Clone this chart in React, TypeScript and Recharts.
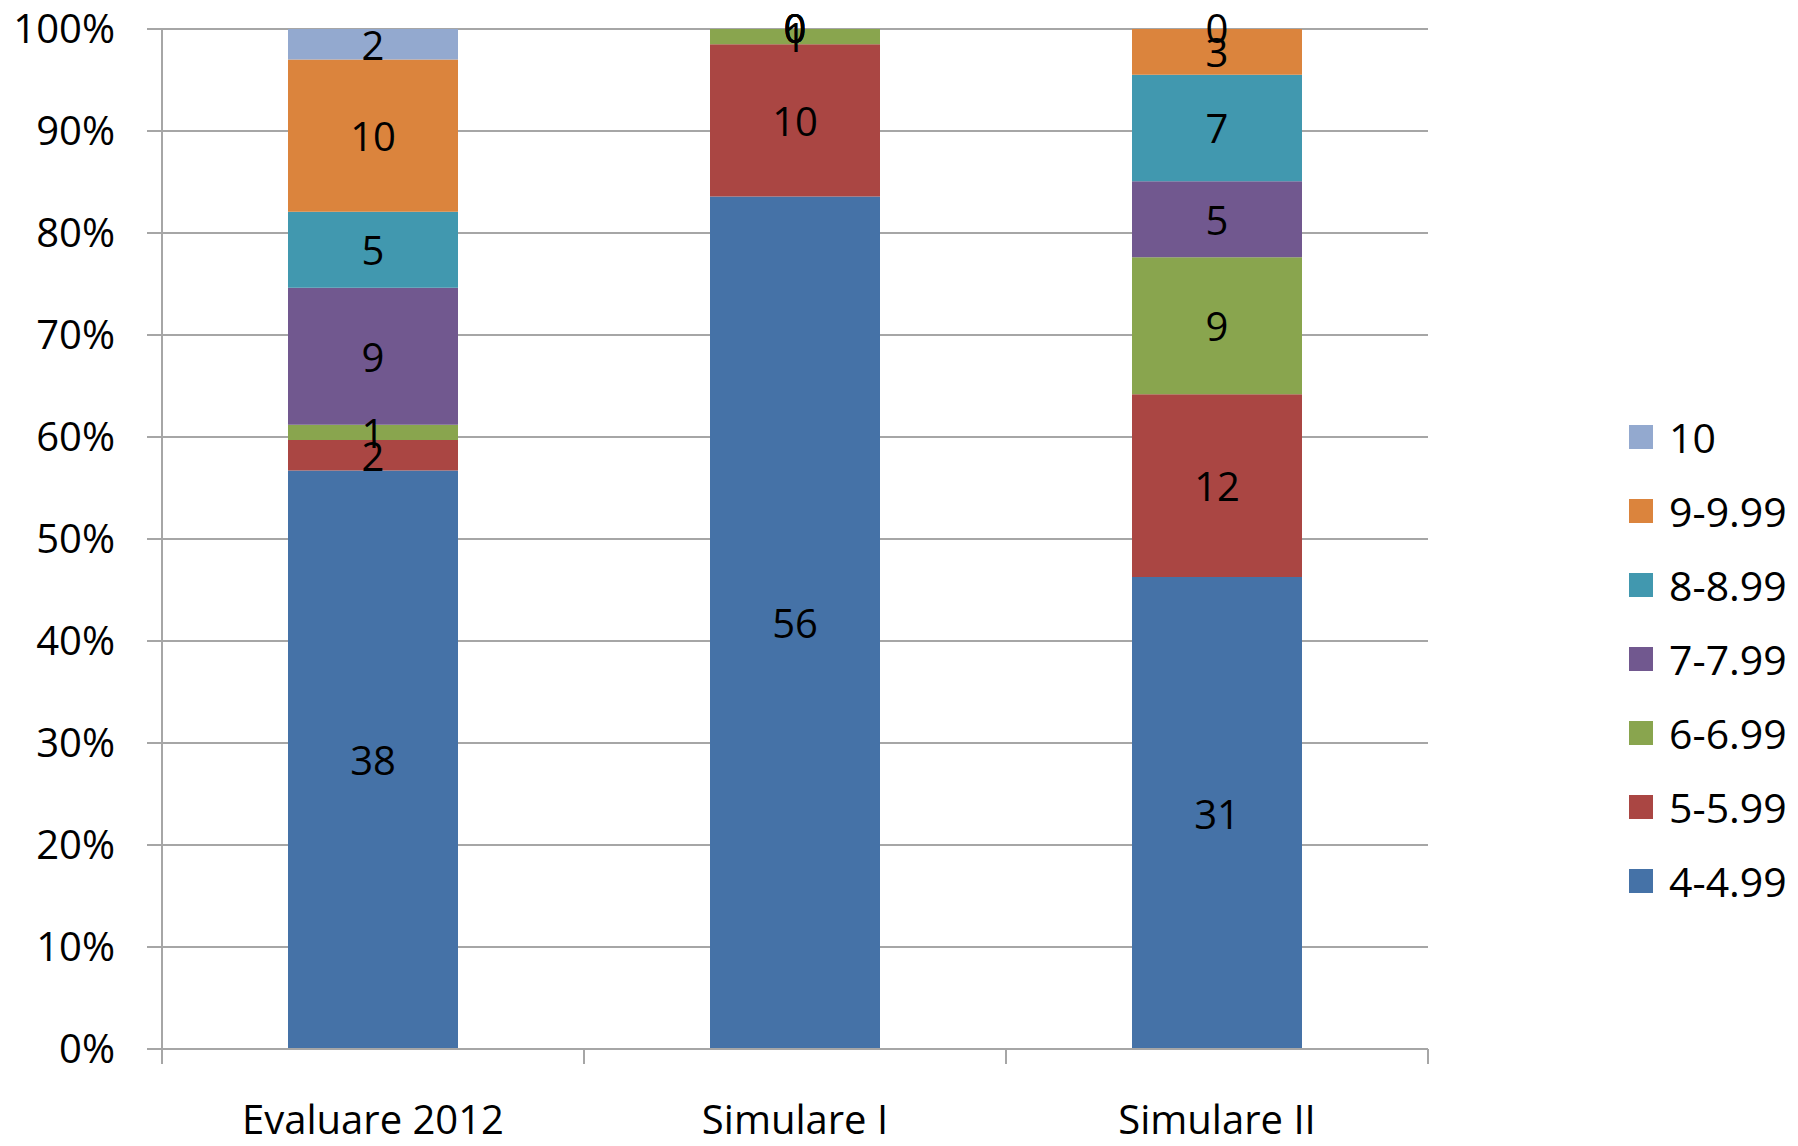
import { BarChart, Bar, XAxis, YAxis, CartesianGrid, Legend, LabelList, ReferenceDot } from 'recharts'

const categories = ['Evaluare 2012', 'Simulare I', 'Simulare II']
const seriesKeys = ['g4', 'g5', 'g6', 'g7', 'g8', 'g9', 'g10']
const seriesNames = ['4-4.99', '5-5.99', '6-6.99', '7-7.99', '8-8.99', '9-9.99', '10']
const seriesColors = ['#4572A7', '#AA4643', '#89A54E', '#71588F', '#4198AF', '#DB843D', '#93A9CF']

// counts per category, same order as categories
const grade4 = [38, 56, 31]
const grade5 = [2, 10, 12]
const grade6 = [1, 1, 9]
const grade7 = [9, 0, 5]
const grade8 = [5, 0, 7]
const grade9 = [10, 0, 3]
const grade10 = [2, 0, 0]
const seriesValues = [grade4, grade5, grade6, grade7, grade8, grade9, grade10]

const yTicks = [0, 0.1, 0.2, 0.3, 0.4, 0.5, 0.6, 0.7, 0.8, 0.9, 1]

const data = categories.map((name, i) => {
  const row: Record<string, string | number> = { name }
  seriesKeys.forEach((k, s) => { row[k] = seriesValues[s][i] })
  return row
})

// zero-count segments get no rect, so their "0" is placed at the stack share instead
const zeroLabels: { cat: string; share: number; key: string }[] = []
categories.forEach((cat, i) => {
  const total = seriesValues.reduce((t, v) => t + v[i], 0)
  let run = 0
  seriesValues.forEach((v, s) => {
    run += v[i]
    if (v[i] === 0) zeroLabels.push({ cat, share: run / total, key: `${cat}-${s}` })
  })
})

const W = 1798
const H = 1146
const PLOT_LEFT = 162
const PLOT_TOP = 29
const PLOT_BOTTOM = 1049
const PLOT_RIGHT = 1428
const LEGEND_W = 183
const GRID = '#A6A6A6'
const FONT = '"Open Sans", sans-serif'

function CategoryTick(props: any) {
  const { x, payload, index } = props
  const band = (PLOT_RIGHT - PLOT_LEFT) / categories.length
  const last = index === categories.length - 1
  return (
    <g>
      <line x1={x - band / 2} x2={x - band / 2} y1={PLOT_BOTTOM} y2={PLOT_BOTTOM + 15} stroke={GRID} strokeWidth={2} />
      {last && <line x1={x + band / 2} x2={x + band / 2} y1={PLOT_BOTTOM} y2={PLOT_BOTTOM + 15} stroke={GRID} strokeWidth={2} />}
      <text x={x} y={1134} textAnchor="middle" fontSize={40} fill="#000" fontFamily={FONT}>
        {payload.value}
      </text>
    </g>
  )
}

function SegmentLabel(props: any) {
  const { x, y, width, height, value } = props
  if (value === undefined || value === null) return null
  return (
    <text
      x={Number(x) + Number(width) / 2}
      y={Number(y) + Number(height) / 2}
      textAnchor="middle"
      dominantBaseline="central"
      fontSize={40}
      fill="#000"
      fontFamily={FONT}
    >
      {value}
    </text>
  )
}

function LegendBox() {
  const items = seriesNames.map((n, i) => ({ n, c: seriesColors[i] })).reverse()
  return (
    <div style={{ fontFamily: FONT }}>
      {items.map(it => (
        <div key={it.n} style={{ height: 74, display: 'flex', alignItems: 'center' }}>
          <span style={{ width: 24, height: 24, background: it.c, display: 'inline-block', marginRight: 16 }} />
          <span style={{ fontSize: 41, color: '#000' }}>{it.n}</span>
        </div>
      ))}
    </div>
  )
}

export default function App() {
  return (
    <div style={{ position: 'absolute', left: 0, top: 0, width: W, height: H, background: '#fff' }}>
      <BarChart
        width={W}
        height={H}
        data={data}
        stackOffset="expand"
        barSize={170}
        margin={{ top: PLOT_TOP, right: W - PLOT_RIGHT - LEGEND_W, bottom: 0, left: 0 }}
      >
        <CartesianGrid vertical={false} stroke={GRID} strokeWidth={2} />
        <XAxis
          dataKey="name"
          height={H - PLOT_BOTTOM}
          axisLine={{ stroke: GRID, strokeWidth: 2 }}
          tickLine={false}
          tick={<CategoryTick />}
          interval={0}
        />
        <YAxis
          width={PLOT_LEFT}
          domain={[0, 1]}
          ticks={yTicks}
          tickFormatter={(v: number) => `${Math.round(v * 100)}%`}
          axisLine={{ stroke: GRID, strokeWidth: 2 }}
          tickLine={{ stroke: GRID, strokeWidth: 2 }}
          tickSize={15}
          tickMargin={32}
          tick={{ fontSize: 40, fill: '#000', fontFamily: FONT }}
        />
        <Legend
          layout="vertical"
          align="right"
          verticalAlign="top"
          content={<LegendBox />}
          wrapperStyle={{ left: 1629, top: 400, right: 'auto', width: LEGEND_W }}
        />
        {seriesKeys.map((k, i) => (
          <Bar key={k} dataKey={k} name={seriesNames[i]} stackId="a" fill={seriesColors[i]} isAnimationActive={false}>
            <LabelList dataKey={k} content={<SegmentLabel />} />
          </Bar>
        ))}
        {zeroLabels.map(z => (
          <ReferenceDot
            key={z.key}
            x={z.cat}
            y={z.share}
            r={0}
            fill="none"
            stroke="none"
            ifOverflow="visible"
            label={{ value: '0', position: 'center', fontSize: 40, fill: '#000', fontFamily: FONT }}
          />
        ))}
      </BarChart>
    </div>
  )
}
